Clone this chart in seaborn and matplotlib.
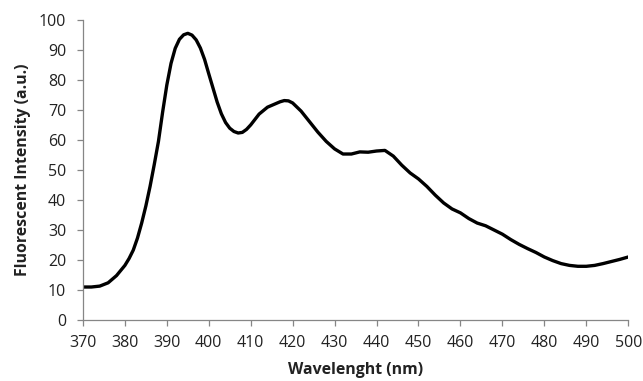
import matplotlib
matplotlib.use("Agg")
import matplotlib.pyplot as plt
import seaborn as sns
import pandas as pd

# Emission spectrum
wavelength = [370, 372, 374, 376, 378, 380, 381, 382, 383, 384, 385, 386, 387, 388, 389,
              390, 391, 392, 393, 394, 395, 396, 397, 398, 399, 400, 401, 402, 403, 404,
              405, 406, 407, 408, 409, 410, 412, 414, 416, 417, 418, 419, 420, 422, 424,
              426, 428, 430, 432, 434, 436, 438, 440, 442, 444, 446, 448, 450, 452, 454,
              456, 458, 460, 462, 464, 466, 468, 470, 472, 474, 476, 478, 480, 482, 484,
              486, 488, 490, 492, 494, 496, 498, 500]
intensity = [11.0, 11.0, 11.3, 12.4, 14.8, 18.2, 20.5, 23.3, 27.3, 32.3, 38.0, 44.5, 51.8, 59.5, 69.3,
             78.3, 85.5, 90.5, 93.5, 95.0, 95.5, 94.9, 93.3, 90.6, 86.8, 82.0, 77.3, 72.6, 68.7, 65.8,
             63.9, 62.8, 62.3, 62.5, 63.5, 65.0, 68.6, 70.9, 72.1, 72.7, 73.1, 73.0, 72.3, 69.6, 66.1,
             62.6, 59.5, 57.0, 55.3, 55.3, 56.0, 55.9, 56.3, 56.5, 54.6, 51.6, 49.0, 47.0, 44.5, 41.6,
             39.0, 37.0, 35.7, 33.8, 32.3, 31.4, 30.0, 28.6, 26.8, 25.2, 23.8, 22.5, 21.0, 19.8, 18.8,
             18.2, 17.9, 17.9, 18.2, 18.8, 19.5, 20.2, 21.0]

x_ticks = list(range(370, 501, 10))
y_ticks = list(range(0, 101, 10))

df = pd.DataFrame({"wavelength": wavelength, "intensity": intensity})

sns.set_theme(style="white")
plt.rcParams["font.family"] = ["Open Sans", "DejaVu Sans"]

fig = plt.figure(figsize=(6.43, 3.81), dpi=100)
ax = fig.add_axes([0.129, 0.160, 0.848, 0.788])

sns.lineplot(data=df, x="wavelength", y="intensity", color="black",
             linewidth=2.4, ax=ax, solid_joinstyle="round", solid_capstyle="round")

ax.set_xlim(370, 500)
ax.set_ylim(0, 100)
ax.set_xticks(x_ticks)
ax.set_yticks(y_ticks)

grey = "#868686"
for side in ["top", "right"]:
    ax.spines[side].set_visible(False)
for side in ["left", "bottom"]:
    ax.spines[side].set_color(grey)
    ax.spines[side].set_linewidth(0.9)

ax.tick_params(axis="both", which="major", direction="out", length=4,
               width=0.9, color=grey, labelsize=11.5, labelcolor="#222222",
               bottom=True, left=True)
ax.tick_params(axis="x", pad=7)
ax.tick_params(axis="y", pad=8)

ax.set_xlabel("Wavelenght (nm)", fontsize=11.4, fontweight="bold", color="#222222",
              labelpad=8)
ax.set_ylabel("Fluorescent Intensity (a.u.)", fontsize=11.4, fontweight="bold",
              color="#222222", labelpad=6)

plt.savefig("out.png", dpi=100)
